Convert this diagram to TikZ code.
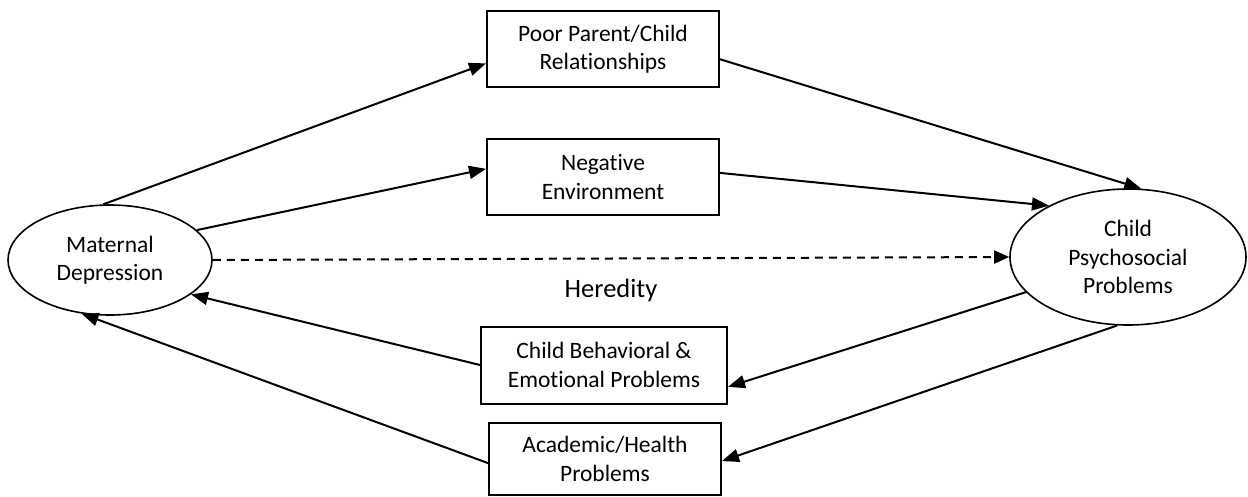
\documentclass[tikz,border=0pt]{standalone}
\usepackage{fontspec}
\setmainfont{Carlito}[Ligatures={NoCommon}]
\usetikzlibrary{shapes.geometric,arrows.meta}
\begin{document}
\begin{tikzpicture}[x=1pt,y=-1pt,
  box/.style={draw,line width=2pt,rectangle,align=center,inner sep=0pt,font=\fontsize{23.5}{28.5}\selectfont},
  oval/.style={draw,line width=1.6pt,ellipse,align=center,inner sep=0pt,font=\fontsize{23.5}{28.5}\selectfont},
  arr/.style={line width=2pt,-{Triangle[length=17pt,width=13pt]}},
  darr/.style={line width=2pt,dashed,dash pattern=on 8pt off 6pt,-{Triangle[length=15pt,width=13pt]}}]
\useasboundingbox (0,0) rectangle (1248,496);
\node[oval,minimum width=204pt,minimum height=110pt] (mat) at (110,260) {Maternal\\Depression};
\node[oval,minimum width=236pt,minimum height=136pt] (chi) at (1128,257) {Child\\Psychosocial\\Problems};
\node[box,minimum width=232pt,minimum height=76pt] (poor) at (603,49) {Poor Parent/Child\\Relationships};
\node[box,minimum width=232pt,minimum height=76pt] (neg) at (603,177) {Negative\\Environment};
\node[box,minimum width=246pt,minimum height=77pt] (beh) at (604,365) {Child Behavioral \&\\Emotional Problems};
\node[box,minimum width=232pt,minimum height=72pt] (aca) at (605,459) {Academic/Health\\Problems};
\node[font=\fontsize{26.5}{30}\selectfont] (her) at (611,290) {Heredity};
\draw[arr] (mat.97) -- (poor.187);
\draw[arr] (mat.19.6) -- (neg.176.5);
\draw[arr] (poor.355) -- (chi.79);
\draw[arr] (neg.2.5) -- (chi.147);
\draw[darr] (mat.east) -- (chi.west);
\draw[arr] (chi.199) -- (beh.-10.8);
\draw[arr] (beh.west) -- (mat.-23);
\draw[arr] (chi.261) -- (aca.-1.5);
\draw[arr] (aca.182.5) -- (mat.-118);
\end{tikzpicture}
\end{document}
